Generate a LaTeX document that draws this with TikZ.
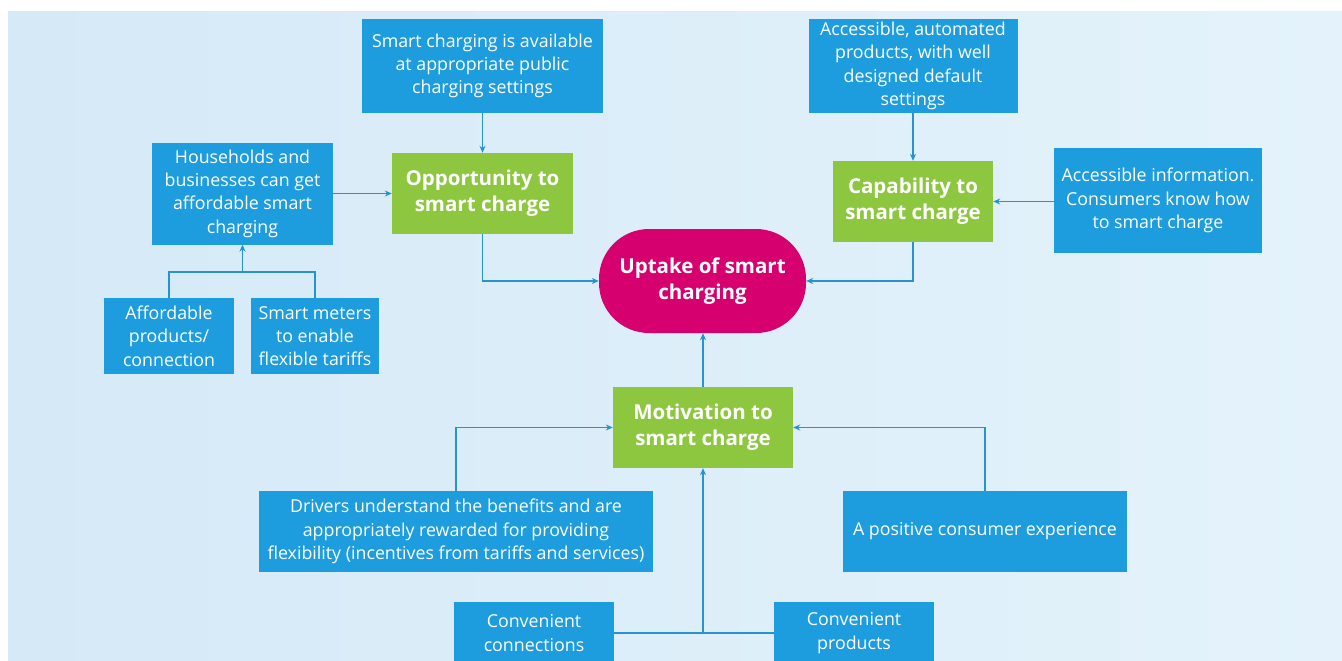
\documentclass[tikz,border=0pt]{standalone}
\usepackage{fontspec}
\setmainfont{Open Sans}
\usetikzlibrary{arrows.meta}

\definecolor{boxblue}{RGB}{29,157,222}
\definecolor{boxgreen}{RGB}{141,198,63}
\definecolor{hubpink}{RGB}{214,0,111}
\definecolor{linkblue}{RGB}{38,146,208}
\definecolor{bgleft}{RGB}{213,233,247}
\definecolor{bgright}{RGB}{228,243,251}

\tikzset{
  factor/.style={rectangle, fill=boxblue, text=white, align=center,
    inner sep=0pt, font=\fontsize{17.8}{23.3}\selectfont},
  driver/.style={rectangle, fill=boxgreen, text=white, align=center,
    inner sep=0pt, font=\bfseries\fontsize{20.5}{26}\selectfont},
  hub/.style={rectangle, rounded corners=50pt, fill=hubpink, text=white,
    align=center, inner sep=0pt, font=\bfseries\fontsize{20.5}{26}\selectfont},
  link/.style={draw=linkblue, line width=1.6pt},
  feed/.style={link, -{Stealth[length=7pt,width=6pt]}},
}

\begin{document}
\begin{tikzpicture}[x=1pt, y=-1pt]
\useasboundingbox (0,0) rectangle (1342,661);
\clip (0,0) rectangle (1342,661);
\fill[white] (0,0) rectangle (1342,661);
\fill[left color=bgleft, right color=bgright] (8,12) rectangle (1342,661);

% central outcome
\node[hub, minimum width=207pt, minimum height=104pt] (uptake) at (702.5,281)
  {Uptake of smart\\charging};

% opportunity branch
\node[driver, minimum width=181pt, minimum height=81pt] (opp) at (482.5,193.5)
  {Opportunity to\\smart charge};
\node[factor, minimum width=241pt, minimum height=94pt] (pub) at (482.5,66)
  {Smart charging is available\\at appropriate public\\charging settings};
\node[factor, minimum width=181pt, minimum height=102pt] (house) at (242.5,193.5)
  {Households and\\businesses can get\\affordable smart\\charging};
\node[factor, minimum width=130pt, minimum height=76pt] (afford) at (169,336)
  {Affordable\\products/\\connection};
\node[factor, minimum width=128pt, minimum height=76pt] (meters) at (315,336)
  {Smart meters\\to enable\\flexible tariffs};

% capability branch
\node[driver, minimum width=160pt, minimum height=81pt] (cap) at (913,201.5)
  {Capability to\\smart charge};
\node[factor, minimum width=209pt, minimum height=94pt] (auto) at (913,66)
  {Accessible, automated\\products, with well\\designed default\\settings};
\node[factor, minimum width=208pt, minimum height=105pt] (info) at (1158,200.5)
  {Accessible information.\\Consumers know how\\to smart charge};

% motivation branch
\node[driver, minimum width=180pt, minimum height=81pt] (mot) at (703,427.5)
  {Motivation to\\smart charge};
\node[factor, minimum width=394pt, minimum height=81pt] (drivers) at (456,531.5)
  {Drivers understand the benefits and are\\appropriately rewarded for providing\\flexibility (incentives from tariffs and services)};
\node[factor, minimum width=284pt, minimum height=81pt] (positive) at (985,531.5)
  {A positive consumer experience};
\node[factor, minimum width=160pt, minimum height=62pt] (cconn) at (534,633)
  {Convenient\\connections};
\node[factor, minimum width=160pt, minimum height=62pt] (cprod) at (854,633)
  {Convenient\\products};

% connectors
\draw[feed] (pub.south) -- (opp.north);
\draw[feed] (house.east) -- (opp.west |- house.east);
\coordinate (join) at (house.south |- 0,272);
\draw[link] (afford.north) |- (meters.north |- join) -- (meters.north);
\draw[feed] (join) -- (house.south);
\draw[feed] (opp.south) |- (uptake.west);

\draw[feed] (auto.south) -- (cap.north);
\draw[feed] (info.west |- cap.east) -- (cap.east);
\draw[feed] (cap.south) |- (uptake.east);

\draw[feed] (mot.north) -- (uptake.south -| mot.north);
\draw[feed] (drivers.north) |- (mot.west);
\draw[feed] (positive.north) |- (mot.east);
\coordinate (base) at (mot.south |- cconn.east);
\draw[link] (cconn.east) -- (cprod.west);
\draw[feed] (base) -- (mot.south);
\end{tikzpicture}
\end{document}
